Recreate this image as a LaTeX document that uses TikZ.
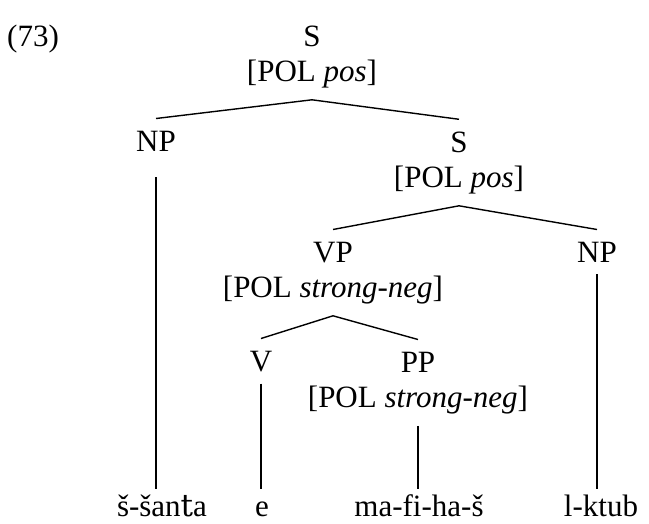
\documentclass[tikz,border=0pt]{standalone}
\usepackage{fontspec}
\setmainfont{Liberation Serif}
\newfontfamily\dvs{DejaVu Serif}
\usepackage{tikz}
\usetikzlibrary{positioning}

\begin{document}
\begin{tikzpicture}[
    x=1pt, y=-1pt,
    cat/.style={font=\fontsize{31}{35}\selectfont, align=center, anchor=base, inner xsep=0pt, inner ysep=12pt},
    leaf/.style={font=\fontsize{31}{35}\selectfont, anchor=base, inner xsep=0pt, inner ysep=6pt, text height=21pt},
    branch/.style={line width=1.4pt}
]
    \useasboundingbox (0,0) rectangle (649,523);

    \node[font=\fontsize{31}{35}\selectfont, anchor=base west, inner sep=0pt] (ex) at (7,46) {(73)};

    % tree nodes (placed at the baseline of their last line)
    \node[cat] (S0) at (312,81) {S\\\relax[POL \textit{pos}]};
    \node[cat] (NP1) at (156,151) {NP};
    \node[cat] (S1) at (459,187) {S\\\relax[POL \textit{pos}]};
    \node[cat] (VP) at (333,297) {VP\\\relax[POL \textit{strong-neg}]};
    \node[cat] (NP2) at (597,262) {NP};
    \node[cat] (V) at (261,371) {V};
    \node[cat] (PP) at (418,407) {PP\\\relax[POL \textit{strong-neg}]};

    % words
    \node[leaf] (W1) at (162,516) {š-šan{\dvs t}a};
    \node[leaf] (W2) at (262,516) {e};
    \node[leaf] (W3) at (419,516) {ma-fi-ha-š};
    \node[leaf] (W4) at (601,516) {l-ktub};

    \draw[branch] (NP1.north) -- (S0.south) -- (S1.north);
    \draw[branch] (VP.north) -- (S1.south) -- (NP2.north);
    \draw[branch] (V.north) -- (VP.south) -- (PP.north);

    \draw[branch] ([yshift=-14pt]NP1.south) -- (NP1 |- W1.north);
    \draw[branch] (NP2.south) -- (NP2 |- W4.north);
    \draw[branch] (V.south) -- (V |- W2.north);
    \draw[branch] (PP.south) -- (PP |- W3.north);
\end{tikzpicture}
\end{document}
